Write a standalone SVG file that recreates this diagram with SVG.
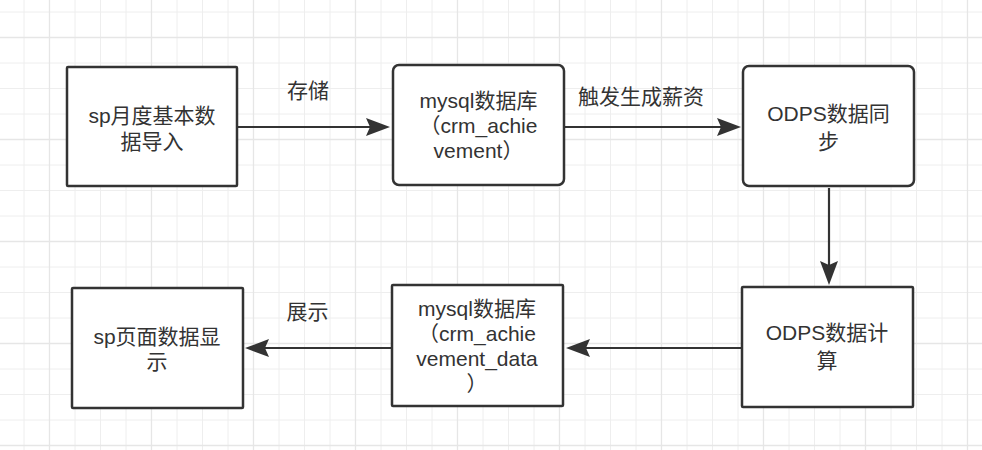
<svg xmlns="http://www.w3.org/2000/svg" width="982" height="450" viewBox="0 0 982 450">
<style>
.minor{stroke:#eeeeee;stroke-width:1;fill:none}
.major{stroke:#e6e6e6;stroke-width:1.3;fill:none}
.box{fill:#ffffff;stroke:#333333;stroke-width:2.5}
.t{font-family:"Liberation Sans","Noto Sans CJK SC",sans-serif;font-size:21px;fill:#333333;text-anchor:middle}
.edge{stroke:#333333;stroke-width:2.2;fill:none}
</style>
<defs>
<marker id="arr" viewBox="0 0 24 18" refX="4" refY="9" markerWidth="24" markerHeight="18" markerUnits="userSpaceOnUse" orient="auto">
<path d="M0 0 L24 9 L0 18 L4 9 Z" fill="#333333"/>
</marker>
</defs>
<rect width="982" height="450" fill="#ffffff"/>
<g id="grid">
<path class="minor" d="M24 0V450M49.5 0V450M75 0V450M100.5 0V450M126 0V450M151.5 0V450M177 0V450M202.5 0V450M228 0V450M253.5 0V450M279 0V450M304.5 0V450M330 0V450M355.5 0V450M381 0V450M406.5 0V450M432 0V450M457.5 0V450M483 0V450M508.5 0V450M534 0V450M559.5 0V450M585 0V450M610.5 0V450M636 0V450M661.5 0V450M687 0V450M712.5 0V450M738 0V450M763.5 0V450M789 0V450M814.5 0V450M840 0V450M865.5 0V450M891 0V450M916.5 0V450M942 0V450M967.5 0V450
M0 12H982M0 37.5H982M0 63H982M0 88.5H982M0 114H982M0 139.5H982M0 165H982M0 190.5H982M0 216H982M0 241.5H982M0 267H982M0 292.5H982M0 318H982M0 343.5H982M0 369H982M0 394.5H982M0 420H982M0 445.5H982"/>
<path class="major" d="M49.5 0V450M151.5 0V450M253.5 0V450M355.5 0V450M457.5 0V450M559.5 0V450M661.5 0V450M763.5 0V450M865.5 0V450M967.5 0V450M0 37.5H982M0 139.5H982M0 241.5H982M0 343.5H982M0 445.5H982"/>
</g>
<g id="connectors">
<line class="edge" x1="238" y1="127" x2="370" y2="127" marker-end="url(#arr)"/>
<line class="edge" x1="565" y1="127" x2="721" y2="127" marker-end="url(#arr)"/>
<line class="edge" x1="829" y1="188" x2="829" y2="265" marker-end="url(#arr)"/>
<line class="edge" x1="742" y1="348" x2="586" y2="348" marker-end="url(#arr)"/>
<line class="edge" x1="392" y1="348" x2="265" y2="348" marker-end="url(#arr)"/>
<text class="t" x="308" y="97.5">存储</text>
<text class="t" x="641" y="104">触发生成薪资</text>
<text class="t" x="307.5" y="319">展示</text>
</g>
<g id="n1">
<rect class="box" x="67" y="67" width="170" height="119" rx="1"/>
<text class="t" x="152" y="122.5">sp月度基本数</text>
<text class="t" x="152" y="149">据导入</text>
</g>
<g id="n2">
<rect class="box" x="393" y="65" width="171" height="120" rx="6"/>
<text class="t" x="478.5" y="107.5">mysql数据库</text>
<text class="t" x="478.5" y="132.5">（crm_achie</text>
<text class="t" x="478.5" y="157.5">vement）</text>
</g>
<g id="n3">
<rect class="box" x="743" y="66" width="171" height="120" rx="6"/>
<text class="t" x="828.5" y="121">ODPS数据同</text>
<text class="t" x="828.5" y="148.5">步</text>
</g>
<g id="n4">
<rect class="box" x="742" y="287" width="171" height="120" rx="1"/>
<text class="t" x="827" y="340">ODPS数据计</text>
<text class="t" x="827" y="367.5">算</text>
</g>
<g id="n5">
<rect class="box" x="392" y="285" width="171" height="121" rx="1"/>
<text class="t" x="477" y="316">mysql数据库</text>
<text class="t" x="477" y="341">（crm_achie</text>
<text class="t" x="477" y="366">vement_data</text>
<text class="t" x="477" y="391">）</text>
</g>
<g id="n6">
<rect class="box" x="72" y="288" width="171" height="120" rx="1"/>
<text class="t" x="157" y="344">sp页面数据显</text>
<text class="t" x="157" y="369">示</text>
</g>
</svg>
